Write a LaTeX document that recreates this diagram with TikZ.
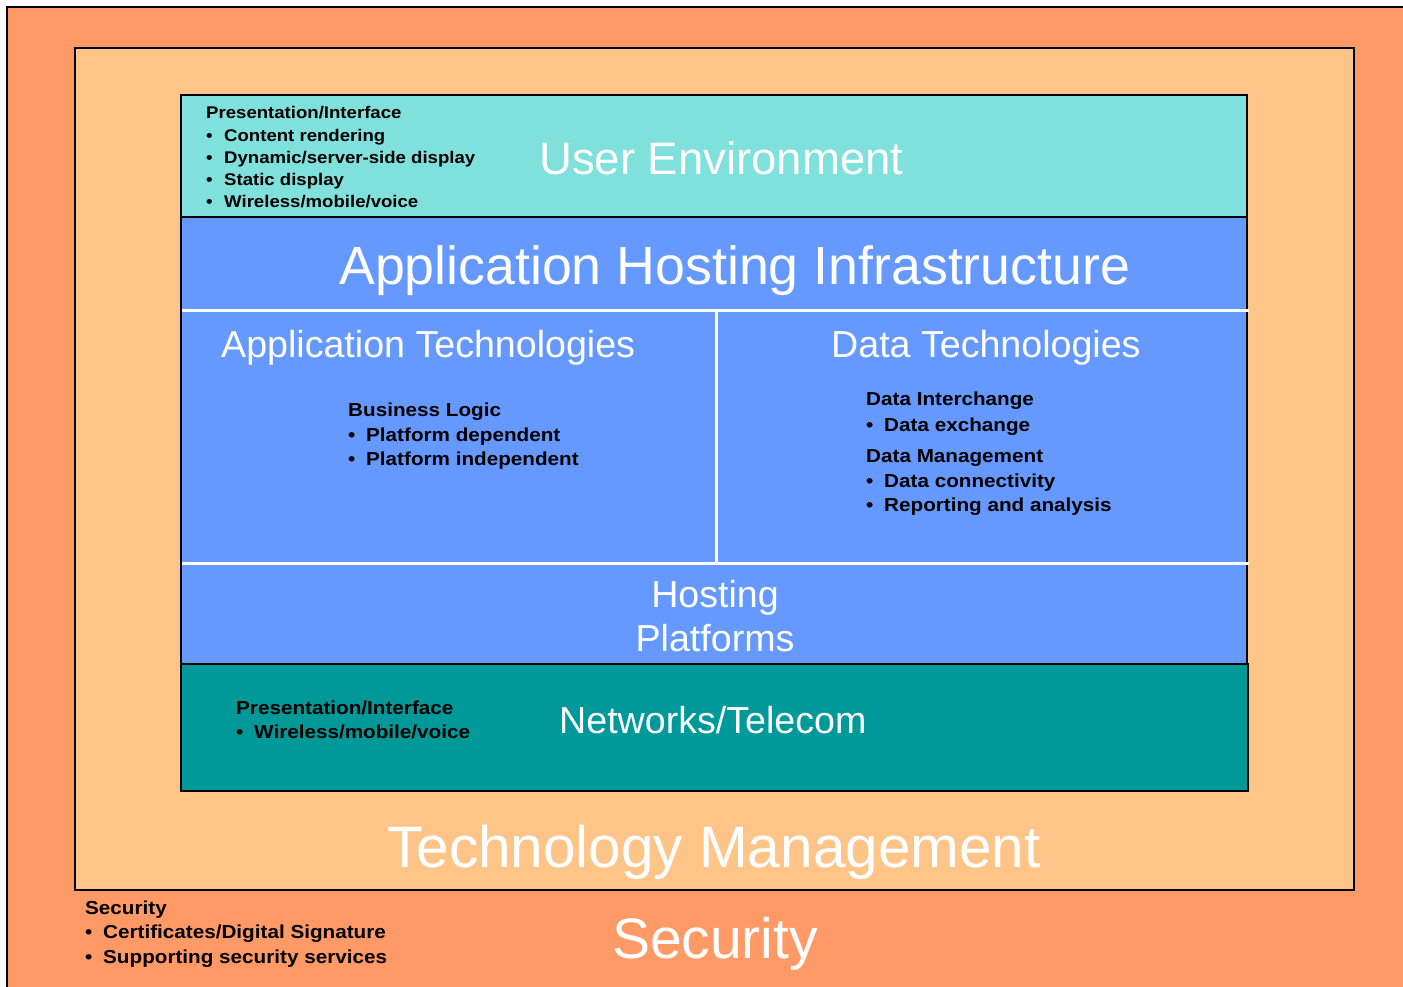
\documentclass[tikz,border=0pt]{standalone}
\usepackage{fontspec}
\setmainfont{Liberation Sans}
\newfontfamily\widefont[FakeStretch=1.1]{Liberation Sans}
\definecolor{secorange}{HTML}{FF9966}
\definecolor{mgmtorange}{HTML}{FFC488}
\definecolor{usercyan}{HTML}{80E0DC}
\definecolor{hostblue}{HTML}{6699FF}
\definecolor{netteal}{HTML}{009999}
\newcommand{\bl}[1]{\makebox[18pt][l]{\textbullet}#1}
\newcommand{\blt}[1]{\makebox[18pt][l]{\textbullet}#1}
\begin{document}
\begin{tikzpicture}[x=1pt,y=-1pt,
  layer/.style={draw=black,line width=1.4pt},
  divider/.style={draw=white,line width=3pt},
  bigtxt/.style={inner sep=0,text=white,anchor=base west},
  smalltxt/.style={inner sep=0,anchor=base west,font=\widefont\bfseries\fontsize{18.8}{22}\selectfont},
  toptxt/.style={inner sep=0,anchor=base west,font=\widefont\bfseries\fontsize{16.9}{20}\selectfont}]
\useasboundingbox[fill=white] (0,0) rectangle (1403,987);
% security layer
\fill[secorange] (7,7) rectangle (1403,987);
\draw[black,line width=1.4pt] (7,987) -- (7,7) -- (1403,7);
% technology management
\filldraw[layer,fill=mgmtorange] (75,48) rectangle (1354,890);
% user environment
\filldraw[layer,fill=usercyan] (181,95) rectangle (1247,217);
% application hosting
\filldraw[layer,fill=hostblue] (181,217) rectangle (1247,664);
% networks
\filldraw[layer,fill=netteal] (181,664) rectangle (1248,791);
% white dividers
\draw[divider] (182,310) -- (1249,310);
\draw[divider] (182,563) -- (1249,563);
\draw[divider] (716,310) -- (716,563);

% big titles
\node[bigtxt,font=\fontsize{45.5}{50}\selectfont] (ue) at (539,175) {User Environment};
\node[bigtxt,font=\fontsize{53.7}{60}\selectfont] (ahi) at (339,284) {Application Hosting Infrastructure};
\node[bigtxt,font=\fontsize{37.6}{44}\selectfont] (at) at (221,357) {Application Technologies};
\node[bigtxt,font=\fontsize{37.6}{44}\selectfont] (dt) at (831,357) {Data Technologies};
\node[inner sep=0,text=white,anchor=base,font=\fontsize{37.6}{44}\selectfont] (hp1) at (715,607) {Hosting};
\node[inner sep=0,text=white,anchor=base,font=\fontsize{37.6}{44}\selectfont] (hp2) at (715,651) {Platforms};
\node[bigtxt,font=\fontsize{37.6}{44}\selectfont] (nt) at (559,733) {Networks/Telecom};
\node[inner sep=0,text=white,anchor=base,font=\fontsize{58.5}{64}\selectfont] (tm) at (714,867) {Technology Management};
\node[inner sep=0,text=white,anchor=base,font=\fontsize{57}{64}\selectfont] (sec) at (715,958) {Security};

% user environment list
\node[toptxt] (ue1) at (206,119) {Presentation/Interface};
\node[toptxt] (ue2) at (206,142) {\blt{Content rendering}};
\node[toptxt] (ue3) at (206,164) {\blt{Dynamic/server-side display}};
\node[toptxt] (ue4) at (206,186) {\blt{Static display}};
\node[toptxt] (ue5) at (206,208) {\blt{Wireless/mobile/voice}};

% business logic
\node[smalltxt] (bl1) at (348,416.5) {Business Logic};
\node[smalltxt] (bl2) at (348,441) {\bl{Platform dependent}};
\node[smalltxt] (bl3) at (348,465.5) {\bl{Platform independent}};

% data
\node[smalltxt] (dt1) at (866,405) {Data Interchange};
\node[smalltxt] (dt2) at (866,431) {\bl{Data exchange}};
\node[smalltxt] (dt3) at (866,462) {Data Management};
\node[smalltxt] (dt4) at (866,487.5) {\bl{Data connectivity}};
\node[smalltxt] (dt5) at (866,511) {\bl{Reporting and analysis}};

% networks
\node[smalltxt] (nw1) at (236,714) {Presentation/Interface};
\node[smalltxt] (nw2) at (236,738.3) {\bl{Wireless/mobile/voice}};

% security
\node[smalltxt] (sc1) at (85,914) {Security};
\node[smalltxt] (sc2) at (85,938.5) {\bl{Certificates/Digital Signature}};
\node[smalltxt] (sc3) at (85,963) {\bl{Supporting security services}};
\end{tikzpicture}
\end{document}
